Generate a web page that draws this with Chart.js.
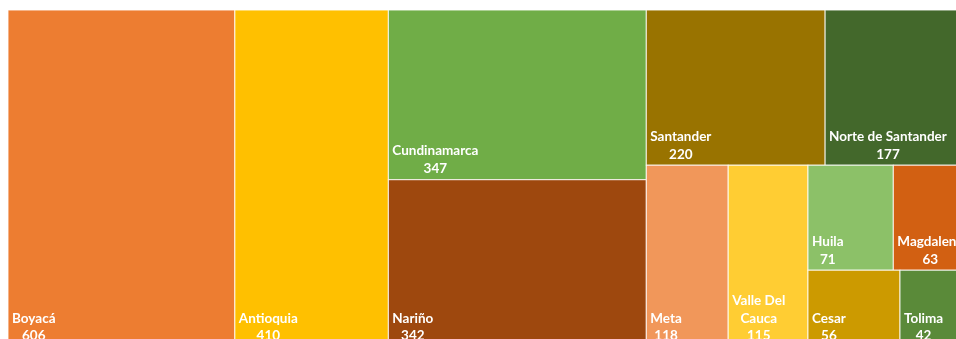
<!DOCTYPE html>
<html>
<head>
<meta charset="utf-8">
<script src="https://cdn.jsdelivr.net/npm/chart.js@4/dist/chart.umd.min.js"></script>
<style>
  html, body { margin: 0; padding: 0; background: #ffffff; }
  #wrap { width: 956px; height: 339px; overflow: hidden; }
</style>
</head>
<body>
<div id="wrap"><canvas id="c" width="956" height="339"></canvas></div>
<script>
// ---- data ----
const categories = ['Boyacá', 'Antioquia', 'Cundinamarca', 'Nariño', 'Santander', 'Norte de Santander',
                    'Meta', 'Valle Del Cauca', 'Huila', 'Magdalena', 'Cesar', 'Tolima'];
const values = [606, 410, 347, 342, 220, 177, 118, 115, 71, 63, 56, 42];
const colors = ['#ED7D31', '#FFC000', '#70AD47', '#9E480E', '#997300', '#43682B',
                '#F1975A', '#FFCD33', '#8CC168', '#D26012', '#CC9A00', '#5A8A39'];

// squarified layout (strip accepted only when it clearly improves aspect ratio)
const IMPROVE = 1.4;
function worst(areas, side) {
  const s = areas.reduce((a, b) => a + b, 0);
  const t = s / side;
  let w = 0;
  for (const a of areas) {
    const l = a / t;
    w = Math.max(w, t / l, l / t);
  }
  return w;
}
function squarify(vals, rect) {
  const total = vals.reduce((a, b) => a + b, 0);
  const k = (rect.w * rect.h) / total;
  const areas = vals.map(v => v * k);
  const out = [];
  let r = { ...rect };
  let i = 0;
  while (i < areas.length) {
    const side = Math.min(r.w, r.h);
    let row = [areas[i]];
    let cur = worst(row, side);
    let j = i + 1;
    while (j < areas.length) {
      const cand = row.concat([areas[j]]);
      const nw = worst(cand, side);
      if (cur / nw > IMPROVE) { row = cand; cur = nw; j++; } else break;
    }
    const s = row.reduce((a, b) => a + b, 0);
    if (r.w >= r.h) {
      const t = s / r.h;
      let y = r.y;
      row.forEach((a, n) => { const h = a / t; out[i + n] = { x: r.x, y, w: t, h }; y += h; });
      r = { x: r.x + t, y: r.y, w: r.w - t, h: r.h };
    } else {
      const t = s / r.w;
      let x = r.x;
      row.forEach((a, n) => { const w = a / t; out[i + n] = { x, y: r.y, w, h: t }; x += w; });
      r = { x: r.x, y: r.y + t, w: r.w, h: r.h - t };
    }
    i = j;
  }
  return out;
}

function wrapText(ctx, text, maxW) {
  const words = text.split(' ');
  const lines = [];
  let line = '';
  for (const w of words) {
    const test = line ? line + ' ' + w : w;
    if (line && ctx.measureText(test).width > maxW) { lines.push(line); line = w; }
    else line = test;
  }
  if (line) lines.push(line);
  return lines;
}

const treemapPlugin = {
  id: 'treemap',
  afterDatasetsDraw(chart) {
    const ctx = chart.ctx;
    const xs = chart.scales.x, ys = chart.scales.y;
    const L = xs.getPixelForValue(0), R = xs.getPixelForValue(1);
    const T = ys.getPixelForValue(0), B = ys.getPixelForValue(1);
    const rects = squarify(values, { x: L, y: T, w: R - L, h: B - T });
    ctx.save();
    rects.forEach((r, i) => {
      ctx.fillStyle = colors[i];
      ctx.fillRect(r.x, r.y, r.w, r.h);
      ctx.strokeStyle = 'rgba(255,255,255,0.85)';
      ctx.lineWidth = 1;
      ctx.strokeRect(r.x, r.y, r.w, r.h);
    });
    ctx.font = 'bold 13.5px Lato';
    ctx.fillStyle = '#ffffff';
    ctx.textAlign = 'center';
    ctx.textBaseline = 'middle';
    const lh = 17.6;
    rects.forEach((r, i) => {
      const lines = wrapText(ctx, categories[i], r.w - 8).concat([String(values[i])]);
      const bw = Math.max(...lines.map(l => ctx.measureText(l).width));
      const cx = r.x + 4 + bw / 2;
      const n = lines.length;
      lines.forEach((l, k) => {
        ctx.fillText(l, cx, r.y + r.h - 11 - (n - 1 - k) * lh);
      });
    });
    ctx.restore();
  }
};

// treemap spans [0,1] x [0,1]; view shows a crop of it
const TW = 961, TH = 337;
new Chart(document.getElementById('c'), {
  type: 'scatter',
  data: { datasets: [{ data: [], pointRadius: 0 }] },
  options: {
    responsive: false,
    animation: false,
    devicePixelRatio: 1,
    layout: { padding: 0 },
    plugins: { legend: { display: false }, tooltip: { enabled: false } },
    scales: {
      x: { type: 'linear', display: false, min: -8 / TW, max: 948 / TW },
      y: { type: 'linear', display: false, reverse: true, min: -10 / TH, max: 329 / TH }
    }
  },
  plugins: [treemapPlugin]
});
</script>
</body>
</html>
